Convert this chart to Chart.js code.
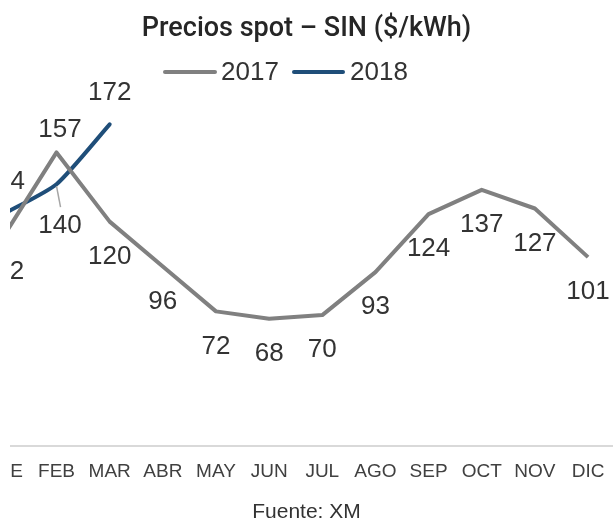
<!DOCTYPE html>
<html>
<head>
<meta charset="utf-8">
<script src="https://cdn.jsdelivr.net/npm/chart.js@4"></script>
<style>
  body { margin:0; background:#fff; width:613px; height:521px; overflow:hidden; position:relative; font-family:"Liberation Sans", Arial, sans-serif; color:#333; }
  #title { position:absolute; left:0; width:613px; top:12px; text-align:center; font-family:Roboto, "Liberation Sans", sans-serif; font-weight:500; font-size:27px; line-height:30px; color:#262626; }
  .lg-line { position:absolute; height:4px; top:70px; border-radius:2px; }
  .lg-text { position:absolute; top:57px; font-size:26px; line-height:28px; color:#333; }
  #src { position:absolute; left:0; width:613px; top:499px; text-align:center; font-size:21px; line-height:24px; color:#333; }
  #wrap { position:absolute; left:10px; top:0; width:603px; height:521px; overflow:hidden; }
  #box { position:absolute; left:-50px; top:0; width:700px; height:521px; }
</style>
</head>
<body>
<div id="wrap"><div id="box"><canvas id="spotChart" width="700" height="521"></canvas></div></div>
<div id="title">Precios spot – SIN ($/kWh)</div>
<div class="lg-line" style="left:163px; width:54px; background:#808080;"></div>
<div class="lg-text" style="left:221px;">2017</div>
<div class="lg-line" style="left:292px; width:53px; background:#1f4e79;"></div>
<div class="lg-text" style="left:350px;">2018</div>
<div id="src">Fuente: XM</div>

<script>
// datos
const months = ['ENE','FEB','MAR','ABR','MAY','JUN','JUL','AGO','SEP','OCT','NOV','DIC'];
const prices2017 = [112, 157, 120, 96, 72, 68, 70, 93, 124, 137, 127, 101];
const prices2018 = [124, 140, 172, null, null, null, null, null, null, null, null, null];

// donde va cada etiqueta respecto al punto
const place2017 = ['below','above','below','below','below','below','below','below','below','below','below','below'];
const place2018 = ['above','leader','above'];

const labelPlugin = {
    id: 'valueLabels',
    afterDatasetsDraw(chart) {
        const ctx = chart.ctx;
        ctx.save();
        ctx.font = '26px "Liberation Sans", Arial, sans-serif';
        ctx.fillStyle = '#333333';
        ctx.textAlign = 'center';
        ctx.textBaseline = 'middle';
        chart.data.datasets.forEach((ds, di) => {
            const meta = chart.getDatasetMeta(di);
            const places = di === 0 ? place2017 : place2018;
            ds.data.forEach((v, i) => {
                if (v == null) return;
                const pt = meta.data[i];
                const p = places[i];
                let dy = 35;
                if (p === 'above') dy = di === 0 ? -23 : -32;
                if (p === 'leader') {
                    dy = 42;
                    ctx.strokeStyle = '#a6a6a6';
                    ctx.lineWidth = 1.5;
                    ctx.beginPath();
                    ctx.moveTo(pt.x, pt.y + 2);
                    ctx.lineTo(pt.x + 4, pt.y + 23);
                    ctx.stroke();
                }
                ctx.fillText(String(v), pt.x + (i === 1 ? 3.5 : 0), pt.y + dy);
            });
        });
        ctx.restore();
    }
};

new Chart(document.getElementById('spotChart'), {
    type: 'line',
    data: {
        labels: months,
        datasets: [
            { label: '2017', data: prices2017, borderColor: '#808080', borderWidth: 4, pointRadius: 0, tension: 0, borderJoinStyle: 'round' },
            { label: '2018', data: prices2018, borderColor: '#1f4e79', borderWidth: 4, pointRadius: 0, tension: 0.2, borderCapStyle: 'round' }
        ]
    },
    options: {
        responsive: false,
        animation: false,
        events: [],
        layout: { padding: { left: 16.8, right: 45.4, top: 72, bottom: 0 } },
        plugins: { legend: { display: false }, title: { display: false }, tooltip: { enabled: false } },
        scales: {
            x: {
                offset: true,
                grid: { display: false, drawTicks: false },
                border: { display: true, color: '#d9d9d9', width: 2 },
                ticks: { color: '#404040', padding: 14, maxRotation: 0, autoSkip: false,
                         font: { family: '"Liberation Sans", Arial, sans-serif', size: 19 } },
                afterFit: (s) => { s.height = 75; }
            },
            y: { display: false, min: 0, max: 200 }
        }
    },
    plugins: [labelPlugin]
});
</script>
</body>
</html>
